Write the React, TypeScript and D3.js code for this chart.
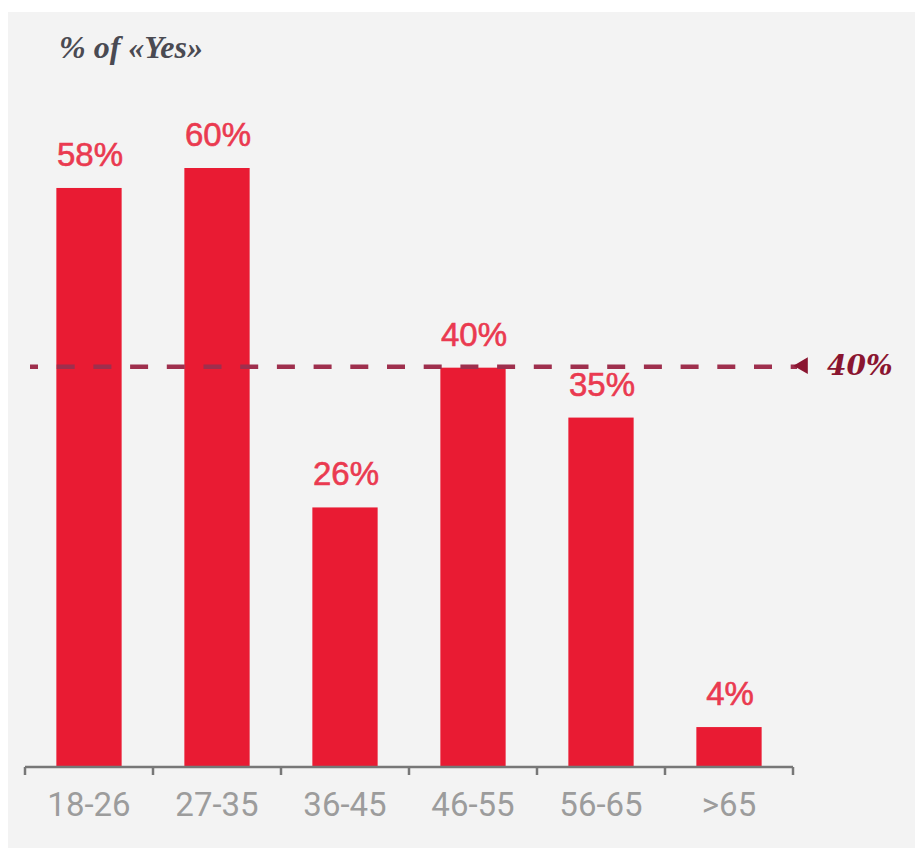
import React, { useEffect, useRef } from 'react';
import * as d3 from 'd3';

const categories = ['18-26', '27-35', '36-45', '46-55', '56-65', '>65'];
const values = [58, 60, 26, 40, 35, 4];
const referenceValue = 40;
const title = '% of «Yes»';

const W = 915;
const H = 848;

const App: React.FC = () => {
    const svgRef = useRef<SVGSVGElement>(null);

    useEffect(() => {
        if (!svgRef.current) return;
        const svg = d3.select(svgRef.current);
        svg.selectAll('*').remove();

        const x = d3.scaleBand<string>().domain(categories).range([25, 793]).padding(0);
        const y = d3.scaleLinear().domain([0, 60]).range([767, 168]);
        const barW = x.bandwidth() * 0.51;

        // panel background
        svg.append('rect').attr('width', W).attr('height', H).attr('fill', '#ffffff');
        svg.append('rect').attr('x', 8).attr('y', 12).attr('width', W - 8).attr('height', H - 12).attr('fill', '#f3f3f3');

        // title
        svg.append('text')
            .attr('x', 59)
            .attr('y', 58)
            .attr('font-family', "'Liberation Serif', 'DejaVu Serif', serif")
            .attr('font-style', 'italic')
            .attr('font-weight', 'bold')
            .attr('font-size', 32)
            .attr('fill', '#4a4a52')
            .text(title);

        // bars
        svg.append('g')
            .selectAll('rect')
            .data(values)
            .join('rect')
            .attr('x', (d, i) => x(categories[i])! + (x.bandwidth() - barW) / 2)
            .attr('y', d => y(d))
            .attr('width', barW)
            .attr('height', d => y(0) - y(d))
            .attr('fill', '#e91b33');

        // value labels
        svg.append('g')
            .attr('font-family', "'Liberation Sans', Arial, sans-serif")
            .attr('font-size', 33)
            .attr('fill', '#ea3a50')
            .attr('stroke', '#ea3a50')
            .attr('stroke-width', 0.6)
            .attr('text-anchor', 'middle')
            .selectAll('text')
            .data(values)
            .join('text')
            .attr('x', (d, i) => x(categories[i])! + x.bandwidth() / 2 + 1)
            .attr('y', d => y(d) - 22)
            .text(d => `${d}%`);

        // reference line
        const ry = y(referenceValue);
        svg.append('line')
            .attr('x1', 30)
            .attr('x2', 797)
            .attr('y1', ry - 1)
            .attr('y2', ry - 1)
            .attr('stroke', '#9e2f4d')
            .attr('stroke-width', 4.5)
            .attr('stroke-dasharray', '18 18.7')
            .attr('stroke-dashoffset', 10);

        svg.append('path')
            .attr('d', d3.symbol(d3.symbolTriangle, 120)())
            .attr('transform', `translate(803,${ry - 2}) rotate(-90)`)
            .attr('fill', '#8a1530');

        svg.append('text')
            .attr('x', 827)
            .attr('y', ry + 7)
            .attr('font-family', "'DejaVu Serif', 'Liberation Serif', serif")
            .attr('font-style', 'italic')
            .attr('font-weight', 'bold')
            .attr('font-size', 28)
            .attr('fill', '#8a1530')
            .text(`${referenceValue}%`);

        // x axis
        const axis = svg.append('g').attr('transform', `translate(0,${y(0)})`);
        axis.call(d3.axisBottom(x).tickSize(0).tickPadding(26))
            .call(g => g.select('.domain').remove())
            .call(g => g.selectAll('text')
                .attr('font-family', "Roboto, 'Liberation Sans', sans-serif")
                .attr('font-weight', 400)
                .attr('font-size', 33)
                .attr('fill', '#9c9c9c'));

        axis.append('line')
            .attr('x1', x.range()[0])
            .attr('x2', x.range()[1])
            .attr('stroke', '#777777')
            .attr('stroke-width', 2.5);

        const bounds = categories.map(c => x(c)!).concat([x.range()[1]]);
        axis.selectAll('line.tick-mark')
            .data(bounds)
            .join('line')
            .attr('class', 'tick-mark')
            .attr('x1', d => d)
            .attr('x2', d => d)
            .attr('y1', 0)
            .attr('y2', 8)
            .attr('stroke', '#777777')
            .attr('stroke-width', 2.5);
    }, []);

    return (
        <svg
            ref={svgRef}
            width={W}
            height={H}
            viewBox={`0 0 ${W} ${H}`}
            style={{ position: 'absolute', left: 0, top: 0, display: 'block' }}
        />
    );
};

export default App;
